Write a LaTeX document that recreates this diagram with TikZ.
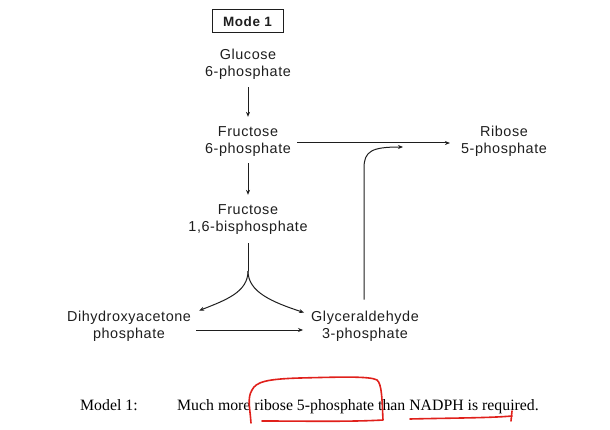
\documentclass[tikz,border=0pt]{standalone}
\usepackage{fontspec}
\setmainfont{Liberation Serif}
\newfontfamily\diagfont[LetterSpace=4]{Liberation Sans}
\usetikzlibrary{arrows.meta}
\definecolor{ink}{HTML}{1E1E1E}
\definecolor{pen}{HTML}{E0201B}
\tikzset{
  lbl/.style={font=\diagfont\fontsize{14.4}{17}\selectfont, align=center, inner sep=0pt, text=ink},
  arr/.style={draw=ink, line width=1pt, -{Stealth[length=5pt,width=4pt]}},
  ln/.style={draw=ink, line width=1pt},
  modebox/.style={draw=ink, line width=1pt, minimum width=71pt, minimum height=23pt, inner sep=0pt,
    font=\diagfont\bfseries\fontsize{13.5}{15}\selectfont, text=ink},
  captext/.style={font=\fontsize{15.8}{18}\selectfont, inner sep=0pt, anchor=base west, text=black},
  redpen/.style={draw=pen, line width=1.6pt, line cap=round, line join=round}
}
\begin{document}
\begin{tikzpicture}[x=1pt,y=-1pt]
\useasboundingbox (0,0) rectangle (610,430);
\node[modebox] (mode) at (247.5,21.5) {Mode 1};
\node[lbl] (g6p) at (248,64) {Glucose\\6-phosphate};
\node[lbl] (f6p) at (248,142) {Fructose\\6-phosphate};
\node[lbl] (f16) at (248,220) {Fructose\\1,6-bisphosphate};
\node[lbl] (dhap) at (129,326) {Dihydroxyacetone\\phosphate};
\node[lbl] (gap) at (365,326) {Glyceraldehyde\\3-phosphate};
\node[lbl] (r5p) at (504,141) {Ribose\\5-phosphate};
\coordinate (j) at (248,271);
\coordinate (tip) at (403,147);

\draw[arr] ([yshift=-8pt]g6p.south) -- ([yshift=10pt]f6p.north);
\draw[arr] ([yshift=-6pt]f6p.south) -- ([yshift=10pt]f16.north);
\draw[ln] ([yshift=-8pt]f16.south) -- (j);
\draw[arr] (j) .. controls (248,292) and (226,300) .. ([xshift=8pt]dhap.north east);
\draw[arr] (j) .. controls (248,292) and (272,302) .. ([xshift=-7pt,yshift=-2pt]gap.north west);
\draw[arr] ([xshift=5pt,yshift=-4pt]dhap.east) -- ([xshift=-8pt,yshift=-4pt]gap.west);
\draw[arr] ([yshift=11pt,xshift=-1pt]gap.north) -- (364,168) .. controls (364,151) and (372,147) .. (tip);
\draw[arr] ([xshift=6pt,yshift=-1pt]f6p.east) -- ([xshift=-11pt,yshift=-2pt]r5p.west);

\node[captext] (model) at (80,410) {Model 1:};
\node[captext] (sent) at (177,410) {Much more ribose 5-phosphate than NADPH is required.};

\draw[redpen] (251,423) .. controls (250,408) and (247,398) .. (252,390)
  .. controls (256,382) and (266,379) .. (300,378)
  .. controls (340,377) and (370,376) .. (377,380)
  .. controls (382,384) and (382,400) .. (383,420)
  .. controls (350,422) and (300,421) .. (262,421);
\draw[redpen] (410,419) .. controls (450,418) and (490,418) .. (512,416);
\draw[redpen] (512,411) -- (511,421);
\end{tikzpicture}
\end{document}
